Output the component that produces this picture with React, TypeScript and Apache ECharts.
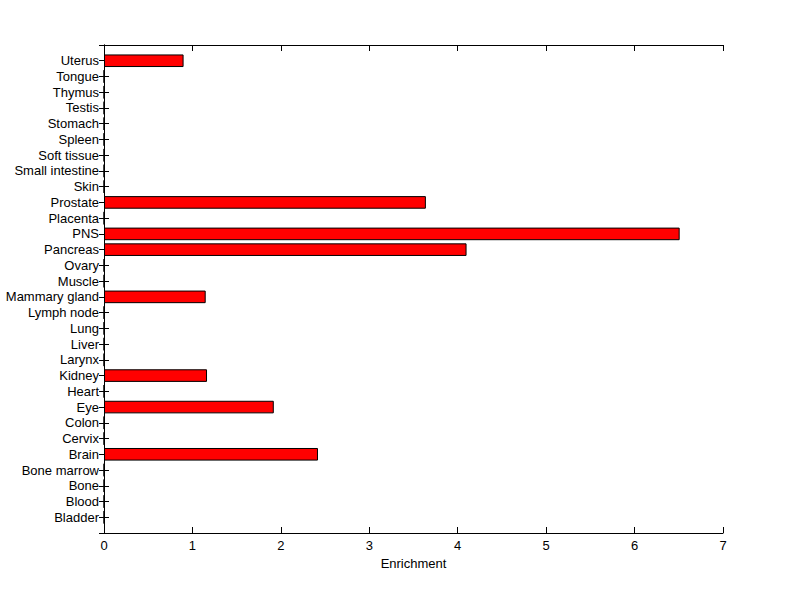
import React, { useEffect, useRef } from "react";
import * as echarts from "echarts";

const categories = [
  "Bladder", "Blood", "Bone", "Bone marrow", "Brain", "Cervix", "Colon", "Eye", "Heart", "Kidney",
  "Larynx", "Liver", "Lung", "Lymph node", "Mammary gland", "Muscle", "Ovary", "Pancreas", "PNS",
  "Placenta", "Prostate", "Skin", "Small intestine", "Soft tissue", "Spleen", "Stomach", "Testis",
  "Thymus", "Tongue", "Uterus",
];
const enrichment = [
  0, 0, 0, 0, 2.42, 0, 0, 1.92, 0, 1.165,
  0, 0, 0, 0, 1.15, 0, 0, 4.1, 6.51,
  0, 3.64, 0, 0, 0, 0, 0, 0,
  0, 0, 0.9,
];
const xTicks = [0, 1, 2, 3, 4, 5, 6, 7];

export default function App() {
  const ref = useRef<HTMLDivElement>(null);
  useEffect(() => {
    if (!ref.current) return;
    const chart = echarts.init(ref.current, null, { renderer: "svg" });
    const font = "Liberation Sans, Arial, sans-serif";
    const line = { lineStyle: { color: "#000", width: 1 } };
    // pad the category axis with empty slots at both ends (axis range 0..31)
    const paddedCats = ["", ...categories, ""];
    const paddedData = [null, ...enrichment, null];
    chart.setOption({
      animation: false,
      backgroundColor: "#fff",
      grid: { left: 104, right: 77, top: 45, bottom: 66, containLabel: false },
      xAxis: [
        {
          type: "value", min: 0, max: 7, interval: 1, position: "bottom",
          name: "Enrichment", nameLocation: "middle", nameGap: 22,
          nameTextStyle: { color: "#000", fontFamily: font, fontSize: 13 },
          axisLine: { show: true, ...line },
          axisTick: { show: true, inside: true, length: 6, ...line },
          axisLabel: { color: "#000", fontFamily: font, fontSize: 13, margin: 6,
            formatter: (v: number) => (xTicks.includes(v) ? String(v) : "") },
          splitLine: { show: false },
        },
        {
          type: "value", min: 0, max: 7, interval: 1, position: "top",
          axisLine: { show: true, ...line },
          axisTick: { show: true, inside: true, length: 6, ...line },
          axisLabel: { show: false },
          splitLine: { show: false },
        },
      ],
      yAxis: [
        {
          type: "category", data: paddedCats, position: "left", boundaryGap: false,
          axisLine: { show: true, ...line },
          axisTick: { show: true, inside: true, length: 5, interval: 0, ...line },
          axisLabel: { color: "#000", fontFamily: font, fontSize: 13, margin: 5, interval: 0 },
        },
        {
          type: "category", data: paddedCats, position: "right", boundaryGap: false,
          axisLine: { show: true, ...line },
          axisTick: { show: true, inside: true, length: 5, interval: 0, ...line },
          axisLabel: { show: false },
        },
      ],
      series: [
        {
          type: "bar",
          data: paddedData,
          barWidth: "80%",
          itemStyle: { color: "#ff0000", borderColor: "#000", borderWidth: 1 },
          xAxisIndex: 0,
          yAxisIndex: 0,
        },
      ],
    });
    return () => chart.dispose();
  }, []);
  return <div ref={ref} style={{ position: "fixed", left: 0, top: 0, width: 800, height: 599 }} />;
}
